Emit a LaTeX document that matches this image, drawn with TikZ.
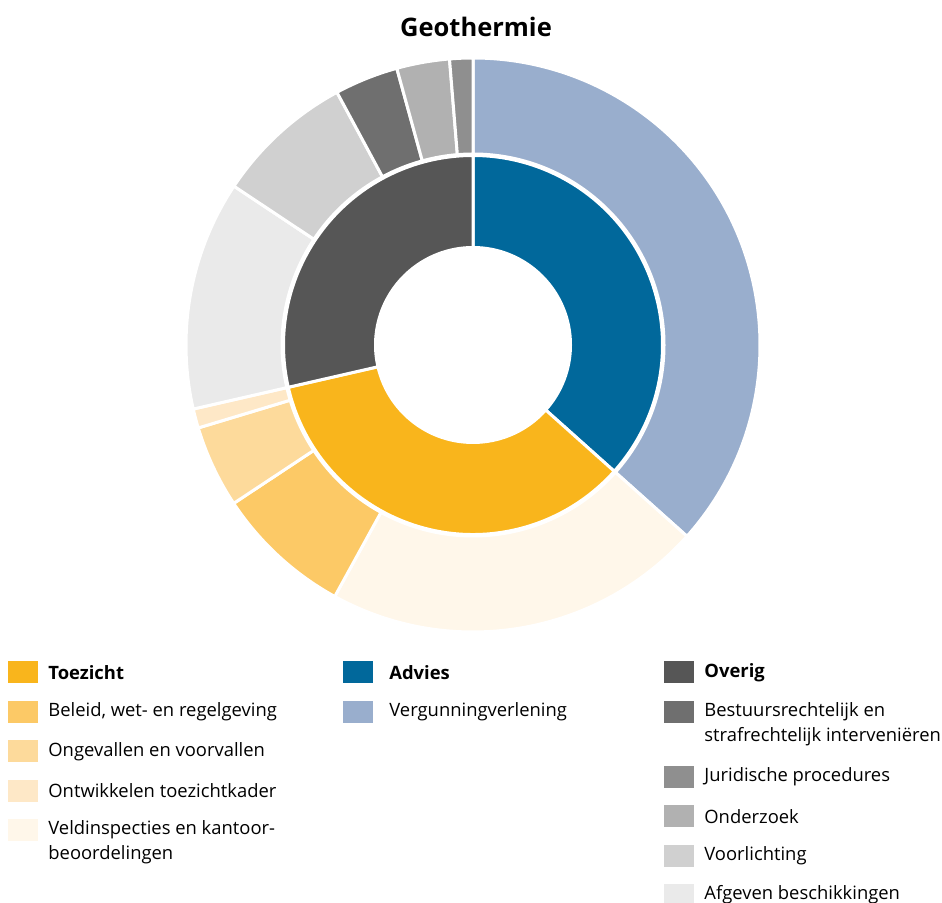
\documentclass[tikz,border=0pt]{standalone}
\usepackage{fontspec}
\setmainfont{Open Sans}
\usetikzlibrary{positioning}

\definecolor{toezicht}{HTML}{F9B51C}
\definecolor{beleid}{HTML}{FCC966}
\definecolor{ongevallen}{HTML}{FDDA9B}
\definecolor{kader}{HTML}{FEE8C7}
\definecolor{veld}{HTML}{FFF7EA}
\definecolor{advies}{HTML}{01689B}
\definecolor{vergunning}{HTML}{99AECD}
\definecolor{overig}{HTML}{565656}
\definecolor{bestuur}{HTML}{6F6F6F}
\definecolor{juridisch}{HTML}{8F8F8F}
\definecolor{onderzoek}{HTML}{B1B1B1}
\definecolor{voorlichting}{HTML}{D0D0D0}
\definecolor{afgeven}{HTML}{EAEAEA}

\begin{document}
\begin{tikzpicture}[x=1pt,y=1pt,
    part/.style={draw=white,line width=3pt},
    key/.style={minimum width=30pt,minimum height=22pt,inner sep=0pt},
    keytext/.style={inner sep=0pt,align=left,font=\fontsize{18.4}{24.5}\selectfont}]
  \useasboundingbox (0,0) rectangle (942,902);

  \node[font=\bfseries\fontsize{25.5}{30}\selectfont] (title) at (476,875) {Geothermie};

  % donut, clockwise from the top
  \begin{scope}[shift={(473,557)}]
    \foreach \a/\b/\c in {90/-41.8/advies, -41.8/-167.1/toezicht, -167.1/-270/overig}
      \filldraw[part,fill=\c] (\a:97.5) arc (\a:\b:97.5) -- (\b:189.5) arc (\b:\a:189.5) -- cycle;
    \foreach \a/\b/\c in {90/-41.8/vergunning, -41.8/-118.8/veld, -118.8/-146.5/beleid,
        -146.5/-163.2/ongevallen, -163.2/-167.1/kader, -167.1/-213.6/afgeven,
        -213.6/-241.7/voorlichting, -241.7/-254.6/bestuur, -254.6/-265.3/onderzoek,
        -265.3/-270/juridisch}
      \filldraw[part,fill=\c] (\a:191) arc (\a:\b:191) -- (\b:287) arc (\b:\a:287) -- cycle;
  \end{scope}

  % legend
  \node[key,fill=toezicht] (kT) at (23,229.5) {};
  \node[key,fill=beleid] (kB) [below=17pt of kT] {};
  \node[key,fill=ongevallen] (kO) [below=17pt of kB] {};
  \node[key,fill=kader] (kK) [below=17pt of kO] {};
  \node[key,fill=veld] (kV) [below=17pt of kK] {};
  \node[keytext,font=\bfseries\fontsize{18.4}{24.5}\selectfont] (tT) [right=10pt of kT] {Toezicht};
  \node[keytext] (tB) [right=10pt of kB] {Beleid, wet- en regelgeving};
  \node[keytext] (tO) [right=10pt of kO] {Ongevallen en voorvallen};
  \node[keytext] (tK) [right=10pt of kK] {Ontwikkelen toezichtkader};
  \node[keytext] (tV) [right=10pt of kV,yshift=-12.25pt] {Veldinspecties en kantoor-\\beoordelingen};

  \node[key,fill=advies] (kA) at (358,229.5) {};
  \node[key,fill=vergunning] (kG) [below=17pt of kA] {};
  \node[keytext,font=\bfseries\fontsize{18.4}{24.5}\selectfont] (tA) [right=16pt of kA] {Advies};
  \node[keytext] (tG) [right=16pt of kG] {Vergunningverlening};

  \node[key,fill=overig] (kR) at (679,229.5) {};
  \node[key,fill=bestuur] (kS) [below=17pt of kR] {};
  \node[key,fill=juridisch] (kJ) [below=42.5pt of kS] {};
  \node[key,fill=onderzoek] (kZ) [below=17pt of kJ] {};
  \node[key,fill=voorlichting] (kL) [below=17pt of kZ] {};
  \node[key,fill=afgeven] (kF) [below=17pt of kL] {};
  \node[keytext,font=\bfseries\fontsize{18.4}{24.5}\selectfont] (tR) [right=10pt of kR] {Overig};
  \node[keytext] (tS) [right=10pt of kS,yshift=-12.25pt] {Bestuursrechtelijk en\\strafrechtelijk interveniëren};
  \node[keytext] (tJ) [right=10pt of kJ] {Juridische procedures};
  \node[keytext] (tZ) [right=10pt of kZ] {Onderzoek};
  \node[keytext] (tL) [right=10pt of kL] {Voorlichting};
  \node[keytext] (tF) [right=10pt of kF] {Afgeven beschikkingen};
\end{tikzpicture}
\end{document}
